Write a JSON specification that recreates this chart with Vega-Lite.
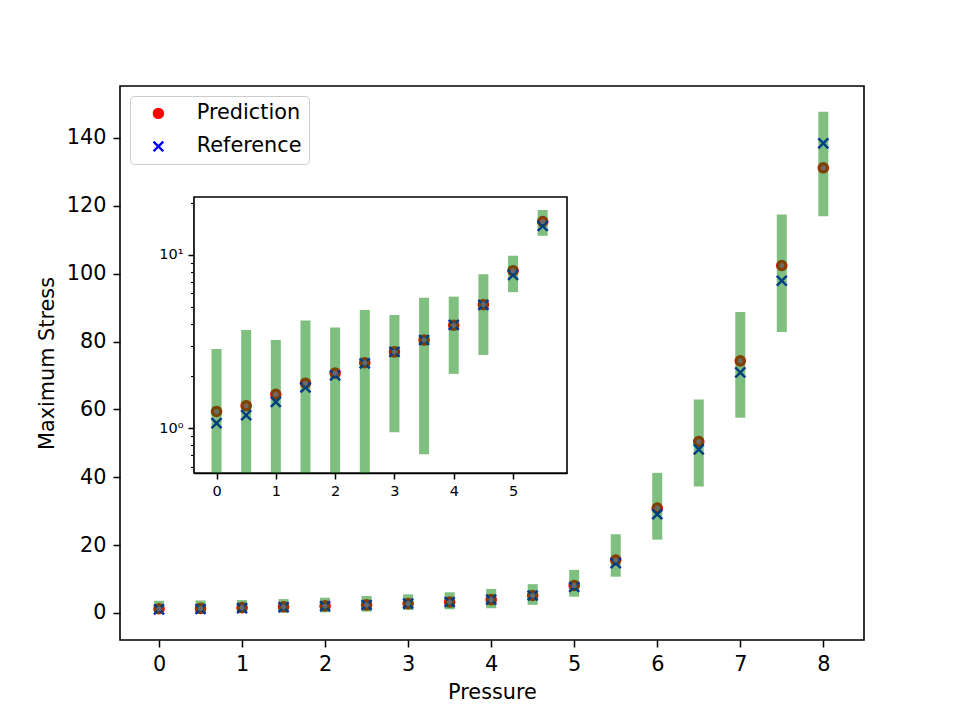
{
  "$schema": "https://vega.github.io/schema/vega-lite/v6.json",
  "width": 744,
  "height": 554,
  "autosize": {"type": "none"},
  "padding": {"left": 120, "top": 86, "right": 96, "bottom": 80},
  "background": "white",
  "config": {
    "font": "DejaVu Sans",
    "view": {"stroke": "black", "strokeWidth": 1.6},
    "axis": {
      "grid": false,
      "domain": false,
      "tickColor": "black",
      "tickWidth": 1.5,
      "tickSize": 7,
      "labelColor": "black",
      "labelFont": "DejaVu Sans",
      "labelFontSize": 20.8,
      "labelPadding": 7,
      "titleColor": "black",
      "titleFont": "DejaVu Sans",
      "titleFontSize": 20.8,
      "titleFontWeight": "normal"
    },
    "legend": {
      "orient": "top-left",
      "offset": 10,
      "labelFont": "DejaVu Sans",
      "labelFontSize": 20.8,
      "labelColor": "black",
      "strokeColor": "#cccccc",
      "fillColor": "rgba(255,255,255,0.8)",
      "cornerRadius": 4,
      "padding": 7,
      "rowPadding": 11,
      "symbolOffset": 11,
      "labelOffset": 28,
      "symbolSize": 130,
      "symbolStrokeWidth": 0
    }
  },
  "datasets": {
    "stress": [
      {"x": 0.0, "Prediction": 1.25, "Reference": 1.07, "lo": -0.3, "hi": 3.6, "log_lo": 0.3, "log_hi": 2.87},
      {"x": 0.5, "Prediction": 1.35, "Reference": 1.19, "lo": -0.2, "hi": 3.7, "log_lo": 0.3, "log_hi": 3.69},
      {"x": 1.0, "Prediction": 1.57, "Reference": 1.42, "lo": 0.0, "hi": 3.8, "log_lo": 0.3, "log_hi": 3.23},
      {"x": 1.5, "Prediction": 1.82, "Reference": 1.72, "lo": 0.1, "hi": 4.1, "log_lo": 0.3, "log_hi": 4.18},
      {"x": 2.0, "Prediction": 2.08, "Reference": 2.02, "lo": 0.2, "hi": 4.5, "log_lo": 0.3, "log_hi": 3.81},
      {"x": 2.5, "Prediction": 2.39, "Reference": 2.37, "lo": 0.4, "hi": 5.0, "log_lo": 0.3, "log_hi": 4.81},
      {"x": 3.0, "Prediction": 2.76, "Reference": 2.76, "lo": 0.9, "hi": 5.5, "log_lo": 0.948, "log_hi": 4.51},
      {"x": 3.5, "Prediction": 3.23, "Reference": 3.23, "lo": 1.1, "hi": 6.1, "log_lo": 0.708, "log_hi": 5.67},
      {"x": 4.0, "Prediction": 3.93, "Reference": 3.95, "lo": 1.4, "hi": 7.1, "log_lo": 2.06, "log_hi": 5.75},
      {"x": 4.5, "Prediction": 5.17, "Reference": 5.15, "lo": 2.4, "hi": 8.5, "log_lo": 2.65, "log_hi": 7.74},
      {"x": 5.0, "Prediction": 8.11, "Reference": 7.67, "lo": 4.8, "hi": 12.7, "log_lo": 6.1, "log_hi": 9.9},
      {"x": 5.5, "Prediction": 15.6, "Reference": 14.7, "lo": 10.7, "hi": 23.2, "log_lo": 12.9, "log_hi": 18.2},
      {"x": 6.0, "Prediction": 30.9, "Reference": 29.1, "lo": 21.6, "hi": 41.3, "log_lo": null, "log_hi": null},
      {"x": 6.5, "Prediction": 50.5, "Reference": 48.2, "lo": 37.3, "hi": 62.9, "log_lo": null, "log_hi": null},
      {"x": 7.0, "Prediction": 74.3, "Reference": 70.9, "lo": 57.5, "hi": 88.7, "log_lo": null, "log_hi": null},
      {"x": 7.5, "Prediction": 102.4, "Reference": 97.9, "lo": 82.8, "hi": 117.4, "log_lo": null, "log_hi": null},
      {"x": 8.0, "Prediction": 131.2, "Reference": 138.4, "lo": 116.9, "hi": 147.7, "log_lo": null, "log_hi": null}
    ]
  },
  "data": {"name": "stress"},
  "layer": [
    {
      "encoding": {
        "x": {
          "field": "x",
          "type": "quantitative",
          "title": "Pressure",
          "scale": {"domain": [-0.47, 8.49], "nice": false, "zero": false},
          "axis": {"values": [0, 1, 2, 3, 4, 5, 6, 7, 8], "orient": "bottom", "titlePadding": 9}
        }
      },
      "layer": [
        {
          "transform": [{"fold": ["Prediction", "Reference"], "as": ["series", "stress"]}],
          "mark": {"type": "point", "filled": true, "opacity": 1, "size": 135},
          "encoding": {
            "y": {
              "field": "stress",
              "type": "quantitative",
              "title": "Maximum Stress",
              "scale": {"domain": [-7.96, 155.3], "nice": false, "zero": false},
              "axis": {"values": [0, 20, 40, 60, 80, 100, 120, 140], "orient": "left", "titlePadding": 9}
            },
            "color": {
              "field": "series",
              "type": "nominal",
              "title": null,
              "scale": {"domain": ["Prediction", "Reference"], "range": ["red", "blue"]}
            },
            "shape": {
              "field": "series",
              "type": "nominal",
              "title": null,
              "scale": {
                "domain": ["Prediction", "Reference"],
                "range": ["circle", "M-1,-0.7L-0.7,-1L0,-0.3L0.7,-1L1,-0.7L0.3,0L1,0.7L0.7,1L0,0.3L-0.7,1L-1,0.7L-0.3,0Z"]
              }
            }
          }
        },
        {
          "mark": {"type": "rule", "color": "green", "opacity": 0.5, "strokeWidth": 10},
          "encoding": {
            "y": {"field": "lo", "type": "quantitative"},
            "y2": {"field": "hi"}
          }
        },
        {
          "mark": {"type": "circle", "color": "#6e6e6e", "opacity": 0.9, "size": 26},
          "encoding": {
            "y": {"field": "Prediction", "type": "quantitative"}
          }
        }
      ]
    },
    {
      "transform": [{"filter": "datum.x <= 5.5"}],
      "encoding": {
        "x": {
          "field": "x",
          "type": "quantitative",
          "title": null,
          "scale": {"domain": [-0.38, 5.91], "range": [74, 447], "nice": false, "zero": false},
          "axis": {
            "values": [0, 1, 2, 3, 4, 5],
            "orient": "bottom",
            "offset": -167,
            "domain": true,
            "domainColor": "black",
            "domainWidth": 1.6,
            "labelFontSize": 14.5,
            "tickSize": 6,
            "labelPadding": 5
          }
        }
      },
      "layer": [
        {
          "transform": [{"filter": "datum.x == 0"}],
          "mark": {"type": "rect", "fill": "white", "stroke": "black", "strokeWidth": 1.6},
          "encoding": {
            "x": {"datum": -0.38, "type": "quantitative"},
            "x2": {"datum": 5.91},
            "y": {"datum": 0.552, "type": "quantitative"},
            "y2": {"datum": 21.6}
          }
        },
        {
          "transform": [{"fold": ["Prediction", "Reference"], "as": ["series", "stress"]}],
          "mark": {"type": "point", "filled": true, "opacity": 1, "size": 135},
          "encoding": {
            "y": {
              "field": "stress",
              "type": "quantitative",
              "title": null,
              "scale": {"type": "log", "domain": [0.552, 21.6], "range": [387, 111], "nice": false, "clamp": true},
              "axis": {
                "orient": "left",
                "offset": -74,
                "domain": true,
                "domainColor": "black",
                "domainWidth": 1.6,
                "values": [0.6, 0.7, 0.8, 0.9, 1, 2, 3, 4, 5, 6, 7, 8, 9, 10, 20],
                "labelExpr": "datum.value == 1 ? '10⁰' : (datum.value == 10 ? '10¹' : '')",
                "labelFontSize": 14.5,
                "labelPadding": 5,
                "tickSize": {"condition": {"test": "datum.value == 1 || datum.value == 10", "value": 6}, "value": 3.5},
                "tickWidth": {"condition": {"test": "datum.value == 1 || datum.value == 10", "value": 1.5}, "value": 1.1}
              }
            },
            "color": {"field": "series", "type": "nominal", "title": null},
            "shape": {"field": "series", "type": "nominal", "title": null}
          }
        },
        {
          "mark": {"type": "rule", "color": "green", "opacity": 0.5, "strokeWidth": 10},
          "encoding": {
            "y": {"field": "log_lo", "type": "quantitative"},
            "y2": {"field": "log_hi"}
          }
        },
        {
          "mark": {"type": "circle", "color": "#6e6e6e", "opacity": 0.9, "size": 26},
          "encoding": {
            "y": {"field": "Prediction", "type": "quantitative"}
          }
        }
      ]
    }
  ],
  "resolve": {
    "scale": {"x": "independent", "y": "independent"},
    "axis": {"x": "independent", "y": "independent"}
  }
}
